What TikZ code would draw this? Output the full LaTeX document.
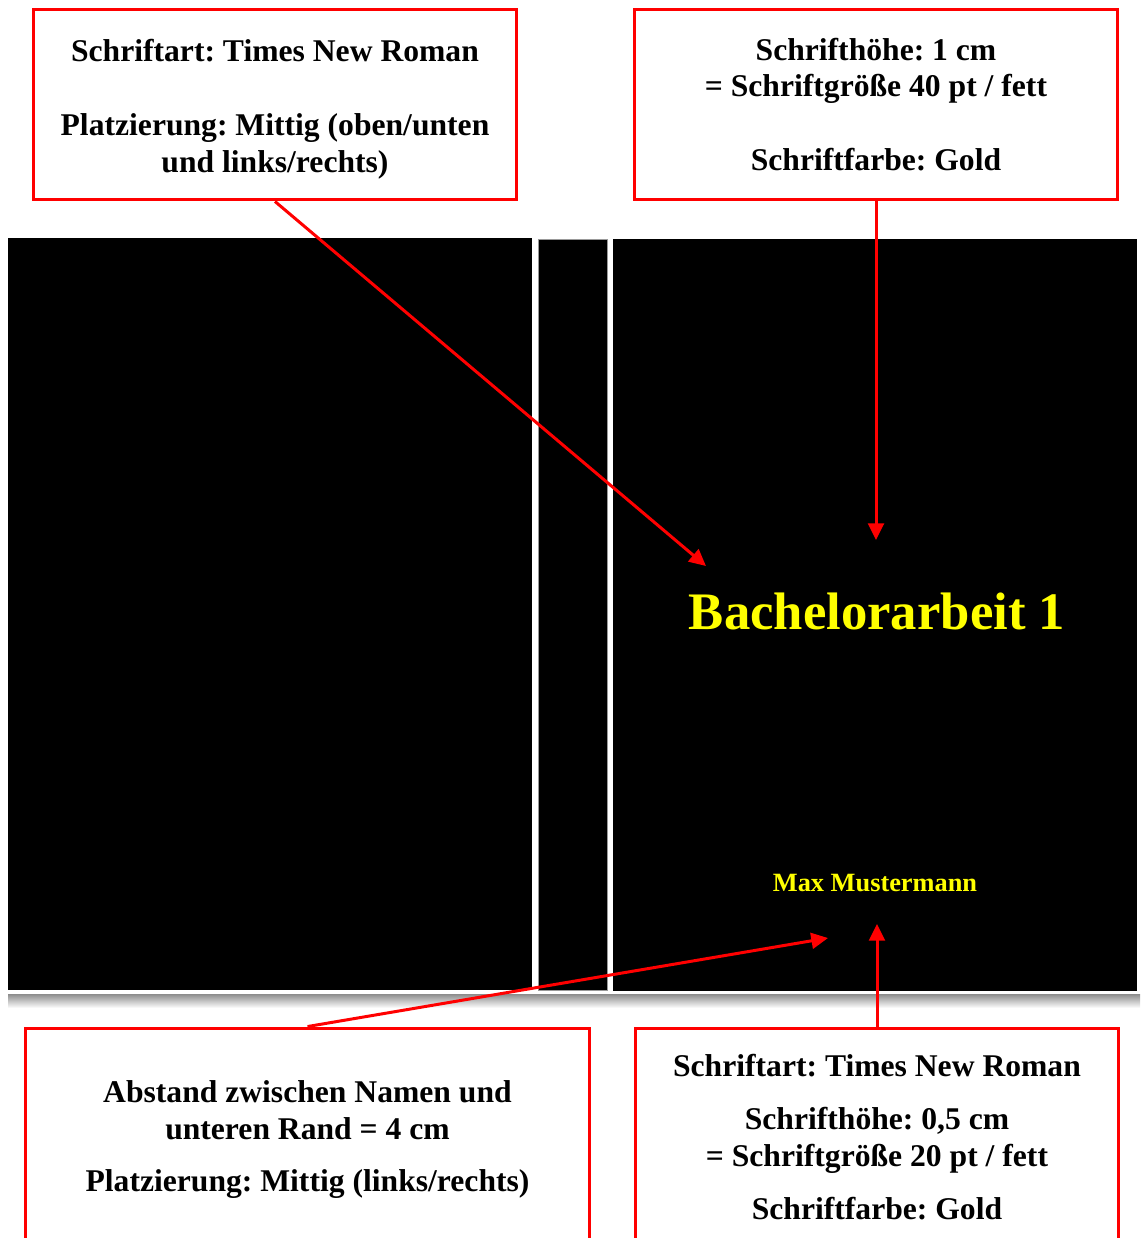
\documentclass[tikz,border=0pt]{standalone}
\usepackage{fontspec}
\setmainfont{Liberation Serif}
\usetikzlibrary{arrows.meta}
\definecolor{schriftgold}{RGB}{255,255,0}
\frenchspacing

\begin{document}
\begin{tikzpicture}[x=0.02cm, y=-0.02cm,
	infobox/.style={draw=red, line width=1.7pt, align=center, inner sep=0pt,
		font=\fontsize{18}{21}\selectfont\bfseries},
	pfeil/.style={red, line width=1.7pt, -{Triangle[length=9.5pt, width=9pt]}}]
	%%%%% START %%%%%
	\clip (0, 0) rectangle (1140, 1238);
	
	% Schatten unter dem Umschlag
	\shade[top color=black!45, bottom color=white] (8, 994) rectangle (1140, 1008);
	
	% Rueckseite, Buchruecken, Vorderseite
	\fill[black] (8, 238) rectangle (532, 990);
	\draw[white, line width=2pt, fill=black] (536, 237) rectangle (609, 992);
	\draw[black!40, line width=0.3pt] (538, 239) rectangle (607, 990);
	\fill[black] (613, 239) rectangle (1137, 991);
	
	\node[font=\fontsize{30}{36}\selectfont\bfseries, text=schriftgold] (titel) at (877, 611) {Bachelorarbeit 1};
	\node[font=\fontsize{15}{18}\selectfont\bfseries, text=schriftgold] (autor) at (875, 883) {Max Mustermann};
	
	% Erlaeuterungen
	\node[infobox, minimum width=9.68cm, minimum height=3.82cm] (artbox) at (275, 104.5)
		{\rule{0pt}{18pt}Schriftart: Times New Roman\\[21pt]Platzierung: Mittig (oben/unten\\und links/rechts)};
	\node[infobox, minimum width=9.68cm, minimum height=3.82cm] (hoehebox) at (876, 104.5)
		{Schrifthöhe: 1 cm\\= Schriftgröße 40 pt / fett\\[21pt]Schriftfarbe: Gold};
	\node[infobox, minimum width=11.3cm, minimum height=4.36cm] (abstandbox) at (307.5, 1137)
		{\rule{0pt}{15.5pt}Abstand zwischen Namen und\\unteren Rand = 4 cm\\[9pt]Platzierung: Mittig (links/rechts)};
	\node[infobox, minimum width=9.68cm, minimum height=4.36cm] (namebox) at (877, 1137)
		{Schriftart: Times New Roman\\[9pt]Schrifthöhe: 0,5 cm\\= Schriftgröße 20 pt / fett\\[9pt]Schriftfarbe: Gold};
	
	\coordinate (titelmitte) at (706, 566);
	\coordinate (titeloben) at (876, 540);
	\coordinate (randunten) at (828, 938);
	\coordinate (autorunten) at (877, 924);
	
	\draw[pfeil] (artbox.south) -- (titelmitte);
	\draw[pfeil] (hoehebox.south) -- (titeloben);
	\draw[pfeil] (abstandbox.north) -- (randunten);
	\draw[pfeil] (namebox.north) -- (autorunten);
	%%%%% END %%%%%
\end{tikzpicture}
\end{document}
